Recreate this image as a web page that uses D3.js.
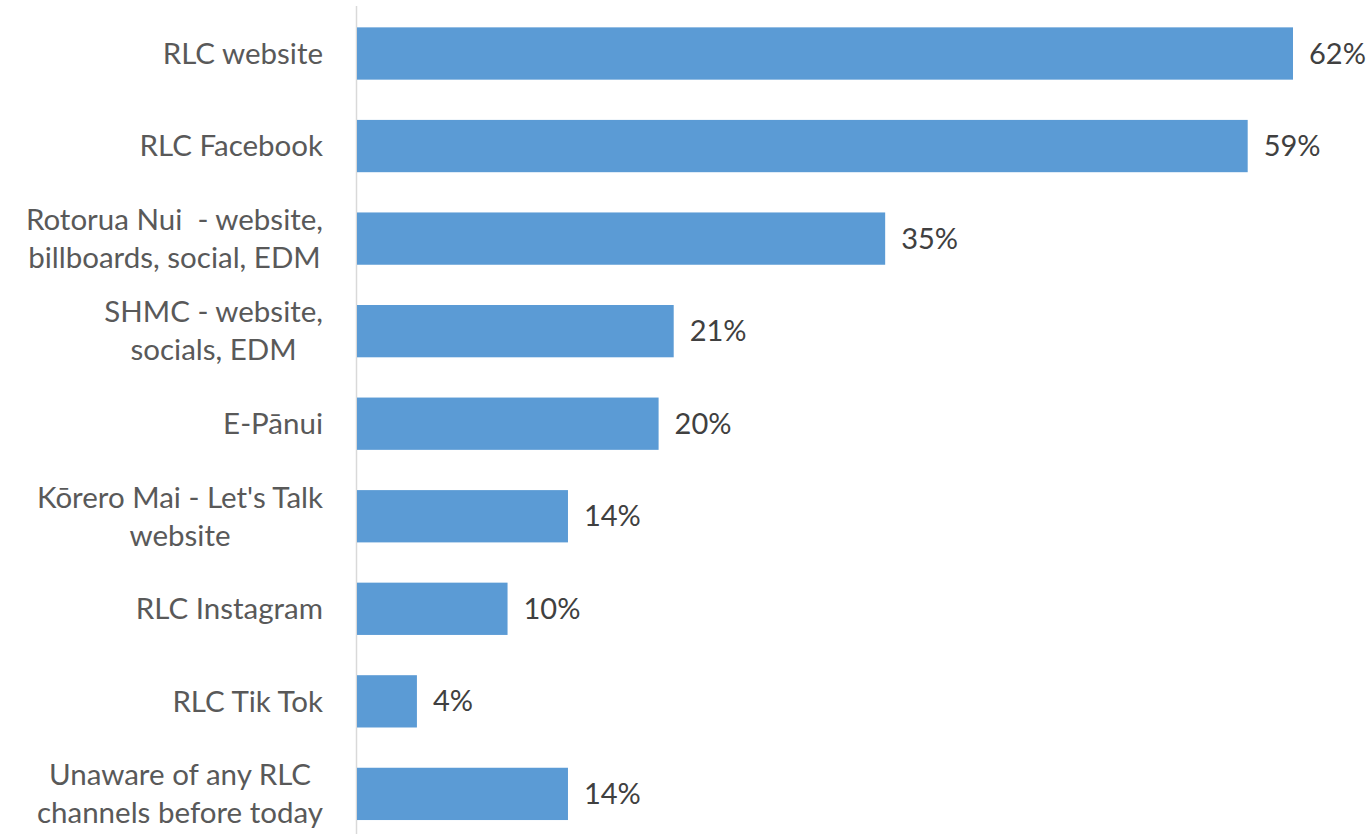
<!DOCTYPE html>
<html>
<head>
<meta charset="utf-8">
<script src="https://cdn.jsdelivr.net/npm/d3@7"></script>
<style>
  body { margin: 0; background: #fff; }
  svg { display: block; }
  text { white-space: pre; }
</style>
</head>
<body>
<svg id="chart" width="1370" height="834"></svg>
<script>
// category labels, one array per wrapped line
const categories = [
  ["RLC website"],
  ["RLC Facebook"],
  ["Rotorua Nui  - website,", "billboards, social, EDM"],
  ["SHMC - website,", "socials, EDM"],
  ["E-Pānui"],
  ["Kōrero Mai - Let's Talk", "website"],
  ["RLC Instagram"],
  ["RLC Tik Tok"],
  ["Unaware of any RLC", "channels before today"]
]
const values = [62, 59, 35, 21, 20, 14, 10, 4, 14]

const svg = d3.select("#chart")
const axisX = 356.5
const labelRight = 323
const fontFamily = "Lato, 'Open Sans', sans-serif"

const x = d3.scaleLinear()
  .domain([0, 62])
  .range([axisX, 1293])

const y = d3.scaleBand()
  .domain(d3.range(values.length))
  .range([7, 7 + 92.6 * values.length])
  .paddingInner(0.435)
  .paddingOuter(0.22)

svg.append("line")
  .attr("x1", axisX).attr("x2", axisX)
  .attr("y1", 6).attr("y2", 834)
  .attr("stroke", "#d9d9d9")
  .attr("stroke-width", 1.5)

svg.selectAll("rect.bar")
  .data(values)
  .enter().append("rect")
  .attr("class", "bar")
  .attr("x", x(0) + 0.5)
  .attr("y", (d, i) => y(i))
  .attr("width", d => x(d) - x(0) - 0.5)
  .attr("height", y.bandwidth())
  .attr("fill", "#5b9bd5")

svg.selectAll("text.value")
  .data(values)
  .enter().append("text")
  .attr("class", "value")
  .attr("x", d => x(d) + 16)
  .attr("y", (d, i) => y(i) + y.bandwidth() / 2)
  .attr("dy", "0.35em")
  .attr("font-family", fontFamily)
  .attr("font-size", 29)
  .attr("fill", "#404040")
  .text(d => d + "%")

// wrapped labels: block sits right-aligned, lines centred inside it
const lineH = 38
const labels = svg.selectAll("text.cat")
  .data(categories)
  .enter().append("text")
  .attr("class", "cat")
  .attr("text-anchor", "middle")
  .attr("font-family", fontFamily)
  .attr("font-size", 29.5)
  .attr("fill", "#595959")

labels.each(function(lines, i) {
  const cy = y(i) + y.bandwidth() / 2
  const top = cy - (lines.length - 1) * lineH / 2
  const spans = d3.select(this).selectAll("tspan")
    .data(lines)
    .enter().append("tspan")
    .attr("y", (d, j) => top + j * lineH)
    .attr("dy", "0.35em")
    .text(d => d)
  const maxW = d3.max(spans.nodes(), n => n.getComputedTextLength())
  spans.attr("x", labelRight - maxW / 2)
})
</script>
</body>
</html>
